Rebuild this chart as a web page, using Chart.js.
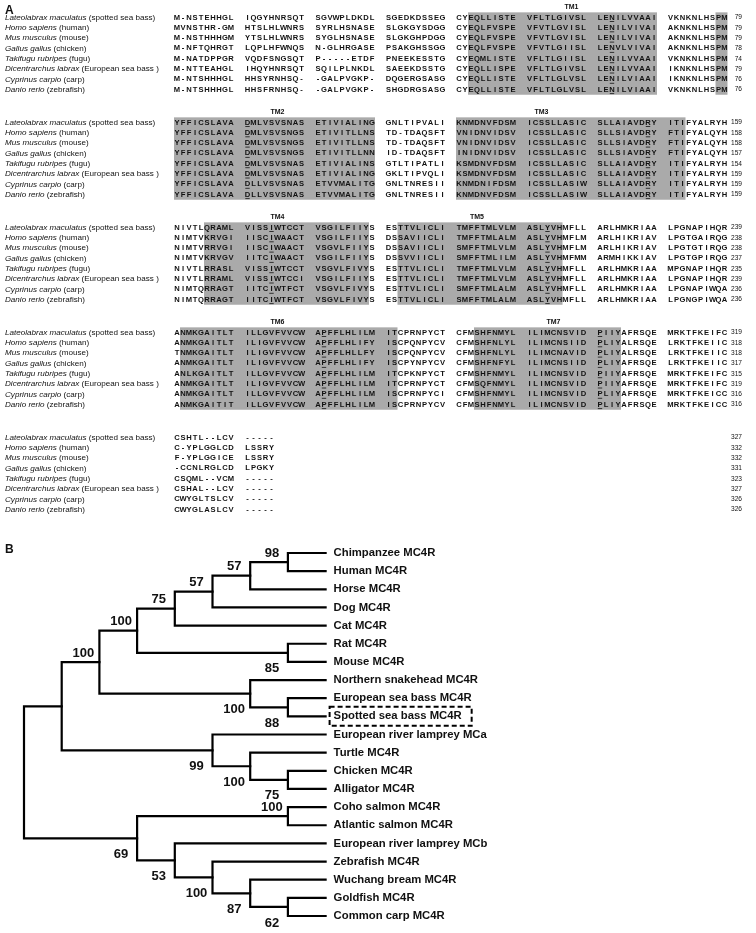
<!DOCTYPE html>
<html>
<head>
<meta charset="utf-8">
<script src="https://cdn.jsdelivr.net/npm/chart.js@4.4.1/dist/chart.umd.min.js"></script>
<style>
  html, body { margin: 0; padding: 0; background: #fff; }
  #wrap { position: relative; width: 756px; height: 933px; overflow: hidden; }
  #alignCanvas { position: absolute; left: 0; top: 0; }
  #treeCanvas { position: absolute; left: 0; top: 530px; }
</style>
</head>
<body>
<div id="wrap">
  <canvas id="alignCanvas" width="756" height="530"></canvas>
  <canvas id="treeCanvas" width="756" height="403"></canvas>
</div>
<script>
// ---- panel A data ----
const speciesLatin = ['Lateolabrax maculatus', 'Homo sapiens', 'Mus musculus', 'Gallus gallus',
  'Takifugu rubripes', 'Dicentrarchus labrax', 'Cyprinus carpio', 'Danio rerio'];
const speciesCommon = ['(spotted sea bass)', '(human)', '(mouse)', '(chicken)',
  '(fugu)', '(European sea bass )', '(carp)', '(zebrafish)'];

const block1 = [
  'M-NSTEHHGL IQGYHNRSQT SGVWPLDKDL SGEDKDSSEG CYEQLLISTE VFLTLGIVSL LENILVVAAI VKNKNLHSPM',
  'MVNSTHR-GM HTSLHLWNRS SYRLHSNASE SLGKGYSDGG CYEQLFVSPE VFVTLGVISL LENILVIVAI AKNKNLHSPM',
  'M-NSTHHHGM YTSLHLWNRS SYGLHSNASE SLGKGHPDGG CYEQLFVSPE VFVTLGVISL LENILVIVAI AKNKNLHSPM',
  'M-NFTQHRGT LQPLHFWNQS N-GLHRGASE PSAKGHSSGG CYEQLFVSPE VFVTLGIISL LENVLVIVAI AKNKNLHSPM',
  'M-NATDPPGR VQDFSNGSQT P-----ETDF PNEEKESSTG CYEQMLISTE VFLTLGIISL LENILVVAAI VKNKNLHSPM',
  'M-NTTEAHGL IHQYHNRSQT SQILPLNKDL SAEEKDSSTG CYEQLLISPE VFLTLGIVSL LENILVVAAI IKNKNLHSPM',
  'M-NTSHHHGL HHSYRNHSQ- -GALPVGKP- DQGERGSASG CYEQLLISTE VFLTLGLVSL LENILVIAAI IKNKNLHSPM',
  'M-NTSHHHGL HHSFRNHSQ- -GALPVGKP- SHGDRGSASG CYEQLLISTE VFLTLGLVSL LENILVIAAI VKNKNLHSPM'
];
const block2 = [
  'YFFICSLAVA DMLVSVSNAS ETIVIALING GNLTIPVALI KNMDNVFDSM ICSSLLASIC SLLAIAVDRY ITIFYALRYH',
  'YFFICSLAVA DMLVSVSNGS ETIVITLLNS TD-TDAQSFT VNIDNVIDSV ICSSLLASIC SLLSIAVDRY FTIFYALQYH',
  'YFFICSLAVA DMLVSVSNGS ETIVITLLNS TD-TDAQSFT VNIDNVIDSV ICSSLLASIC SLLSIAVDRY FTIFYALQYH',
  'YFFICSLAVA DMLVSVSNGS ETIVITLLNN ID-TDAQSFT INIDNVIDSV ICSSLLASIC SLLSIAVDRY FTIFYALQYH',
  'YFFICSLAVA DMLVSVSNAS ETIVIALINS GTLTIPATLI KSMDNVFDSM ICSSLLASIC SLLAIAVDRY ITIFYALRYH',
  'YFFICSLAVA DMLVSVSNAS ETIVIALING GKLTIPVQLI KSMDNVFDSM ICSSLLASIC SLLAIAVDRY ITIFYALRYH',
  'YFFICSLAVA DLLVSVSNAS ETVVMALITG GNLTNRESII KNMDNIFDSM ICSSLLASIW SLLAIAVDRY ITIFYALRYH',
  'YFFICSLAVA DLLVSVSNAS ETVVMALITG GNLTNRESII KNMDNVFDSM ICSSLLASIW SLLAIAVDRY ITIFYALRYH'
];
const block3 = [
  'NIVTLQRAML VISSIWTCCT VSGILFIIYS ESTTVLICLI TMFFTMLVLM ASLYVHMFLL ARLHMKRIAA LPGNAPIHQR',
  'NIMTVKRVGI IISCIWAACT VSGILFIIYS DSSAVIICLI TMFFTMLALM ASLYVHMFLM ARLHIKRIAV LPGTGAIRQG',
  'NIMTVRRVGI IISCIWAACT VSGVLFIIYS DSSAVIICLI SMFFTMLVLM ASLYVHMFLM ARLHIKRIAV LPGTGTIRQG',
  'NIMTVKRVGV IITCIWAACT VSGILFIIYS DSSVVIICLI SMFFTMLILM ASLYVHMFMM ARMHIKKIAV LPGTGPIRQG',
  'NIVTLRRASL VISSIWTCCT VSGVLFIVYS ESTTVLICLI TMFFTMLVLM ASLYVHMFLL ARLHMKRIAA MPGNAPIHQR',
  'NIVTLRRAML VISSIWTCCI VSGILFIIYS ESTTVLICLI TMFFTMLVLM ASLYVHMFLL ARLHMKRIAA LPGNAPIHQR',
  'NIMTQRRAGT IITCIWTFCT VSGVLFIVYS ESTTVLICLI SMFFTMLALM ASLYVHMFLL ARLHMKRIAA LPGNAPIWQA',
  'NIMTQRRAGT IITCIWTFCT VSGVLFIVYS ESTTVLICLI SMFFTMLALM ASLYVHMFLL ARLHMKRIAA LPGNGPIWQA'
];
const block4 = [
  'ANMKGAITLT ILLGVFVVCW APFFLHLILM ITCPRNPYCT CFMSHFNMYL ILIMCNSVID PIIYAFRSQE MRKTFKEIFC',
  'ANMKGAITLT ILIGVFVVCW APFFLHLIFY ISCPQNPYCV CFMSHFNLYL ILIMCNSIID PLIYALRSQE LRKTFKEIIC',
  'TNMKGAITLT ILIGVFVVCW APFFLHLLFY ISCPQNPYCV CFMSHFNLYL ILIMCNAVID PLIYALRSQE LRKTFKEIIC',
  'ANMKGAITLT ILIGVFVVCW APFFLHLIFY ISCPYNPYCV CFMSHFNFYL ILIMCNSIID PLIYAFRSQE LRKTFKEIIC',
  'ANLKGAITLT ILLGVFVVCW APFFLHLILM ITCPKNPYCT CFMSHFNMYL ILIMCNSVID PIIYAFRSQE MRKTFKEIFC',
  'ANMKGAITLT ILIGVFVVCW APFFLHLILM ITCPRNPYCT CFMSQFNMYL ILIMCNSVID PIIYAFRSQE MRKTFKEIFC',
  'ANMKGAITLT ILLGVFVVCW APFFLHLILM ISCPRNPYCI CFMSHFNMYL ILIMCNSVID PLIYAFRSQE MRKTFKEICC',
  'ANMKGAITIT ILLGVFVVCW APFFLHLILM ISCPRNPYCV CFMSHFNMYL ILIMCNSVID PLIYAFRSQE MRKTFKEICC'
];
const block5 = [
  'CSHTL--LCV -----',
  'C-YPLGGLCD LSSRY',
  'F-YPLGGICE LSSRY',
  '-CCNLRGLCD LPGKY',
  'CSQML--VCM -----',
  'CSHAL--LCV -----',
  'CWYGLTSLCV -----',
  'CWYGLASLCV -----'
];
const alignBlocks = [block1, block2, block3, block4, block5];
const blockEnds = [
  [79, 79, 79, 78, 74, 79, 76, 76],
  [159, 158, 158, 157, 154, 159, 159, 159],
  [239, 238, 238, 237, 235, 239, 236, 236],
  [319, 318, 318, 317, 315, 319, 316, 316],
  [327, 332, 332, 331, 323, 327, 326, 326]
];
// shaded transmembrane spans: [block, first column, last column]
const tmShading = [[0, 43, 70], [0, 79, 80], [1, 1, 30], [1, 41, 73], [2, 6, 29], [2, 33, 56], [3, 2, 32], [3, 44, 64]];
const tmLabels = ['TM1', 'TM2', 'TM3', 'TM4', 'TM5', 'TM6', 'TM7'];
const tmLabelBlock = [0, 1, 1, 2, 2, 3, 3];
const tmLabelCol = [58, 16, 53, 16, 44, 16, 55];
// underlined conserved residues: [block, column]
const underlinedCells = [[0, 63], [1, 11], [1, 69], [2, 15], [2, 54], [3, 22], [3, 61]];

// ---- panel B data ----
const treeTopology = [
  [
    [
      [[[[['Chimpanzee MC4R', 'Human MC4R'], 'Horse MC4R'], 'Dog MC4R'], 'Cat MC4R'], ['Rat MC4R', 'Mouse MC4R']],
      ['Northern snakehead MC4R', ['European sea bass MC4R', 'Spotted sea bass MC4R']]
    ],
    ['European river lamprey MCa', ['Turtle MC4R', ['Chicken MC4R', 'Alligator MC4R']]]
  ],
  [
    ['Coho salmon MC4R', 'Atlantic salmon MC4R'],
    ['European river lamprey MCb', ['Zebrafish MC4R', ['Wuchang bream MC4R', ['Goldfish MC4R', 'Common carp MC4R']]]]
  ]
];
// bootstrap values for internal nodes in pre-order, with the side of the branch they sit on
const bootstrapValues = [null, null, 100, 100, 75, 57, 57, 98, 85, 100, 88, 99, 100, 75, 69, 100, 53, 100, 87, 62];
const bootstrapSide = ['', '', 'up', 'up', 'up', 'up', 'up', 'up', 'down', 'down', 'down', 'down', 'down', 'down', 'down', 'up', 'down', 'down', 'down', 'down'];
const highlightedLeaf = 'Spotted sea bass MC4R';

// ---- layout ----
const CHAR_W = 6.0;       // px per residue
const GROUP_GAP = 1.75;   // gap between groups of ten, in residues
const SEQ_LEFT = 174;
const ROW_H = 10.3;
const FIRST_ROW = 17.5;
const BLOCK_STEP = 105 / ROW_H;
const blockRow = [0, 1, 2, 3, 4].map((b) => b * BLOCK_STEP);
const SHADE = '#aaaaaa';
const TEXT = '#111';
const FONT = '"Liberation Sans", Arial, sans-serif';

function colPos(c) {
  return (c - 1) + Math.floor((c - 1) / 10) * GROUP_GAP;
}

const alignPlugin = {
  id: 'alignment',
  beforeDatasetsDraw(chart) {
    const { ctx, scales: { x, y } } = chart;
    ctx.save();
    ctx.fillStyle = SHADE;
    tmShading.forEach(([b, c0, c1]) => {
      const left = x.getPixelForValue(colPos(c0));
      const right = x.getPixelForValue(colPos(c1) + 1);
      const top = y.getPixelForValue(blockRow[b] - 0.5);
      const bottom = y.getPixelForValue(blockRow[b] + 7.5);
      ctx.fillRect(left, top, right - left, bottom - top);
    });
    ctx.restore();
  },
  afterDatasetsDraw(chart) {
    const { ctx, scales: { x, y } } = chart;
    ctx.save();
    ctx.fillStyle = TEXT;
    ctx.textBaseline = 'middle';

    ctx.font = 'bold 12px ' + FONT;
    ctx.fillText('A', 5, y.getPixelForValue(-0.7));

    ctx.font = 'bold 7px ' + FONT;
    ctx.textAlign = 'center';
    tmLabels.forEach((lab, i) => {
      const cx = x.getPixelForValue(colPos(tmLabelCol[i]) + 0.5);
      ctx.fillText(lab, cx, y.getPixelForValue(blockRow[tmLabelBlock[i]] - 1.05));
    });

    alignBlocks.forEach((rows, b) => {
      rows.forEach((seq, r) => {
        const py = y.getPixelForValue(blockRow[b] + r);
        // species name
        ctx.textAlign = 'left';
        ctx.font = 'italic 8.1px ' + FONT;
        ctx.fillText(speciesLatin[r], 5, py);
        const w = ctx.measureText(speciesLatin[r] + ' ').width;
        ctx.font = '8.1px ' + FONT;
        ctx.fillText(speciesCommon[r], 5 + w, py);
        // residues
        ctx.font = 'bold 7.6px ' + FONT;
        ctx.textAlign = 'center';
        let col = 0;
        for (const ch of seq) {
          if (ch === ' ') continue;
          col++;
          ctx.fillText(ch, x.getPixelForValue(colPos(col) + 0.5), py);
        }
        // end position
        ctx.textAlign = 'right';
        ctx.font = '6.6px ' + FONT;
        ctx.fillText(String(blockEnds[b][r]), 742, py);
      });
    });

    ctx.strokeStyle = TEXT;
    ctx.lineWidth = 0.8;
    underlinedCells.forEach(([b, c]) => {
      const l = x.getPixelForValue(colPos(c)) + 0.8;
      const rgt = x.getPixelForValue(colPos(c) + 1) - 0.8;
      for (let r = 0; r < 8; r++) {
        const py = y.getPixelForValue(blockRow[b] + r) + 4;
        ctx.beginPath();
        ctx.moveTo(l, py);
        ctx.lineTo(rgt, py);
        ctx.stroke();
      }
    });
    ctx.restore();
  }
};

new Chart(document.getElementById('alignCanvas'), {
  type: 'scatter',
  data: { datasets: [{ data: [], pointRadius: 0 }] },
  options: {
    responsive: false,
    animation: false,
    events: [],
    layout: { padding: 0 },
    plugins: { legend: { display: false }, tooltip: { enabled: false } },
    scales: {
      x: { type: 'linear', display: false, min: -SEQ_LEFT / CHAR_W, max: (756 - SEQ_LEFT) / CHAR_W },
      y: { type: 'linear', display: false, reverse: true, min: -FIRST_ROW / ROW_H, max: (530 - FIRST_ROW) / ROW_H }
    }
  },
  plugins: [alignPlugin]
});

// ---- tree ----
const LEAF_DEPTH = 8;
const DEPTH_W = 37.7;
const ROOT_X = 24;
const LEAF_H = 18.15;
const FIRST_LEAF = 23;

function layoutTree(node, state) {
  if (typeof node === 'string') {
    const i = state.leaves.length;
    state.leaves.push(node);
    return { y: i, depth: LEAF_DEPTH, height: 0 };
  }
  const idx = state.nodes.length;
  state.nodes.push(null);
  const kids = node.map((ch) => layoutTree(ch, state));
  const height = 1 + Math.max(...kids.map((k) => k.height));
  const info = { y: (kids[0].y + kids[kids.length - 1].y) / 2, depth: LEAF_DEPTH - height, height, kids, index: idx };
  state.nodes[idx] = info;
  return info;
}

const treeState = { leaves: [], nodes: [] };
layoutTree(treeTopology, treeState);

const branchDatasets = treeState.nodes.map((n) => {
  const a = n.kids[0];
  const z = n.kids[n.kids.length - 1];
  return {
    data: [
      { x: a.depth, y: a.y },
      { x: n.depth, y: a.y },
      { x: n.depth, y: z.y },
      { x: z.depth, y: z.y }
    ],
    showLine: true,
    borderColor: '#000',
    borderWidth: 2.2,
    borderCapStyle: 'square',
    borderJoinStyle: 'miter',
    pointRadius: 0,
    tension: 0,
    fill: false
  };
});

const treeLabelPlugin = {
  id: 'treeLabels',
  afterDatasetsDraw(chart) {
    const { ctx, scales: { x, y } } = chart;
    ctx.save();
    ctx.fillStyle = TEXT;
    ctx.textBaseline = 'middle';
    ctx.font = 'bold 12px ' + FONT;
    ctx.fillText('B', 5, y.getPixelForValue(-0.2));

    ctx.font = 'bold 11.3px ' + FONT;
    ctx.textAlign = 'left';
    const lx = x.getPixelForValue(LEAF_DEPTH) + 8;
    treeState.leaves.forEach((name, i) => {
      const py = y.getPixelForValue(i);
      ctx.fillText(name, lx, py);
      if (name === highlightedLeaf) {
        const w = ctx.measureText(name).width;
        ctx.save();
        ctx.strokeStyle = '#000';
        ctx.lineWidth = 2;
        ctx.setLineDash([5, 3]);
        ctx.strokeRect(lx - 4, py - 9.5, w + 14, 19);
        ctx.restore();
      }
    });

    ctx.font = 'bold 13px ' + FONT;
    ctx.textAlign = 'center';
    treeState.nodes.forEach((n, i) => {
      if (bootstrapValues[i] == null) return;
      const px = x.getPixelForValue(n.depth) - 16;
      const py = y.getPixelForValue(n.y) + (bootstrapSide[i] === 'up' ? -9 : 16);
      ctx.fillText(String(bootstrapValues[i]), px, py);
    });
    ctx.restore();
  }
};

new Chart(document.getElementById('treeCanvas'), {
  type: 'scatter',
  data: { datasets: branchDatasets },
  options: {
    responsive: false,
    animation: false,
    events: [],
    layout: { padding: 0 },
    plugins: { legend: { display: false }, tooltip: { enabled: false } },
    scales: {
      x: { type: 'linear', display: false, min: -ROOT_X / DEPTH_W, max: (756 - ROOT_X) / DEPTH_W },
      y: { type: 'linear', display: false, reverse: true, min: -FIRST_LEAF / LEAF_H, max: (403 - FIRST_LEAF) / LEAF_H }
    }
  },
  plugins: [treeLabelPlugin]
});
</script>
</body>
</html>
